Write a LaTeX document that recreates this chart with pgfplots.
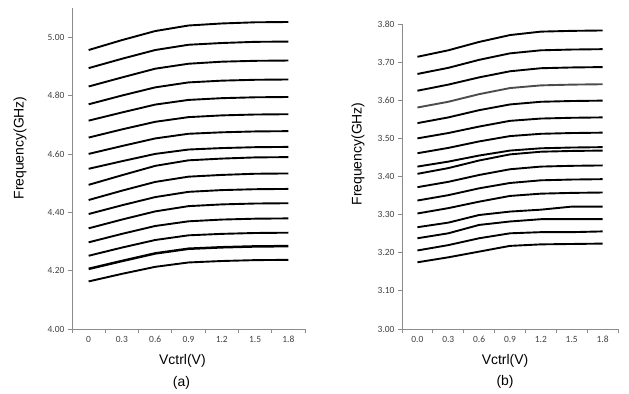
\documentclass[border=0pt]{standalone}
\usepackage{fontspec}
\setmainfont{Liberation Sans}
\newfontfamily\tickfont{Carlito}
\usepackage{pgfplots}
\pgfplotsset{compat=1.18}
\definecolor{axgray}{HTML}{8C8C8C}
\definecolor{txtgray}{HTML}{404040}
\pgfplotsset{
 panel/.style={
  scale only axis,
  anchor=south west,
  axis lines*=left,
  axis line style={axgray, line width=0.8bp},
  xmin=-0.5, xmax=6.5,
  xtick={0,...,6},
  minor xtick={-0.5,0.5,...,6.5},
  major x tick style={draw=none},
  minor x tick style={draw=axgray, line width=0.8bp},
  y tick style={draw=axgray, line width=0.8bp},
  tick align=outside,
  major tick length=4bp, minor tick length=4bp,
  tick label style={font=\tickfont\fontsize{9.5}{11}\selectfont, text=txtgray},
  /pgf/number format/assume math mode=true,
  yticklabel style={/pgf/number format/.cd, fixed, fixed zerofill, precision=2},
  cycle list={black,solid,line width=1.9bp,mark=none\\},
  clip=false,
 }
}
\begin{document}
\begin{tikzpicture}
\useasboundingbox (0,0) rectangle (629bp,394bp);
% ---------------- (a) ----------------
\begin{axis}[panel, at={(72bp,65bp)}, width=233bp, height=321bp,
  ymin=4.0, ymax=5.1, ytick={4.0,4.2,4.4,4.6,4.8,5.0},
  xticklabels={0,0.3,0.6,0.9,1.2,1.5,1.8}]
\addplot coordinates {(0,4.956) (1,4.990) (2,5.021) (3,5.040) (4,5.047) (5,5.051) (6,5.052)};
\addplot coordinates {(0,4.894) (1,4.926) (2,4.956) (3,4.974) (4,4.980) (5,4.984) (6,4.985)};
\addplot coordinates {(0,4.831) (1,4.862) (2,4.892) (3,4.909) (4,4.916) (5,4.919) (6,4.920)};
\addplot coordinates {(0,4.770) (1,4.800) (2,4.828) (3,4.845) (4,4.851) (5,4.854) (6,4.855)};
\addplot coordinates {(0,4.714) (1,4.742) (2,4.769) (3,4.785) (4,4.791) (5,4.794) (6,4.795)};
\addplot coordinates {(0,4.656) (1,4.684) (2,4.710) (3,4.726) (4,4.732) (5,4.735) (6,4.736)};
\addplot coordinates {(0,4.600) (1,4.627) (2,4.653) (3,4.669) (4,4.674) (5,4.677) (6,4.678)};
\addplot coordinates {(0,4.549) (1,4.575) (2,4.600) (3,4.615) (4,4.620) (5,4.623) (6,4.624)};
\addplot coordinates {(0,4.494) (1,4.527) (2,4.559) (3,4.578) (4,4.584) (5,4.588) (6,4.589)};
\addplot coordinates {(0,4.442) (1,4.474) (2,4.504) (3,4.522) (4,4.528) (5,4.532) (6,4.533)};
\addplot coordinates {(0,4.394) (1,4.424) (2,4.452) (3,4.470) (4,4.476) (5,4.479) (6,4.480)};
\addplot coordinates {(0,4.345) (1,4.375) (2,4.403) (3,4.421) (4,4.427) (5,4.430) (6,4.431)};
\addplot coordinates {(0,4.297) (1,4.326) (2,4.353) (3,4.369) (4,4.375) (5,4.378) (6,4.379)};
\addplot coordinates {(0,4.251) (1,4.279) (2,4.305) (3,4.321) (4,4.326) (5,4.329) (6,4.330)};
\addplot[black, line width=2.5bp] coordinates {(0,4.206) (1,4.233) (2,4.259) (3,4.275) (4,4.280) (5,4.283) (6,4.284)};
\addplot coordinates {(0,4.163) (1,4.189) (2,4.213) (3,4.228) (4,4.233) (5,4.236) (6,4.237)};
\node[rotate=90, font=\fontsize{14}{16}\selectfont] at (axis description cs:-0.223,0.564) {Frequency(GHz)};
\node[font=\fontsize{14}{16}\selectfont] at (axis description cs:0.474,-0.0997) {Vctrl(V)};
\node[font=\fontsize{14}{16}\selectfont] at (axis description cs:0.47,-0.168) {(a)};
\end{axis}
% ---------------- (b) ----------------
\begin{axis}[panel, at={(402bp,65bp)}, width=216bp, height=305bp,
  ymin=3.0, ymax=3.8, ytick={3.0,3.1,3.2,3.3,3.4,3.5,3.6,3.7,3.8},
  xticklabels={0.0,0.3,0.6,0.9,1.2,1.5,1.8}]
\addplot coordinates {(0,3.714) (1,3.731) (2,3.753) (3,3.771) (4,3.780) (5,3.782) (6,3.783)};
\addplot coordinates {(0,3.669) (1,3.685) (2,3.706) (3,3.723) (4,3.731) (5,3.733) (6,3.734)};
\addplot coordinates {(0,3.625) (1,3.641) (2,3.660) (3,3.676) (4,3.684) (5,3.686) (6,3.687)};
\addplot[color=black!70, line width=1.9bp] coordinates {(0,3.581) (1,3.596) (2,3.616) (3,3.632) (4,3.639) (5,3.641) (6,3.642)};
\addplot coordinates {(0,3.540) (1,3.555) (2,3.574) (3,3.589) (4,3.596) (5,3.598) (6,3.599)};
\addplot coordinates {(0,3.500) (1,3.514) (2,3.531) (3,3.546) (4,3.552) (5,3.554) (6,3.555)};
\addplot coordinates {(0,3.461) (1,3.475) (2,3.492) (3,3.506) (4,3.512) (5,3.514) (6,3.515)};
\addplot coordinates {(0,3.426) (1,3.439) (2,3.455) (3,3.468) (4,3.474) (5,3.476) (6,3.477)};
\addplot coordinates {(0,3.407) (1,3.422) (2,3.442) (3,3.458) (4,3.465) (5,3.467) (6,3.468)};
\addplot coordinates {(0,3.372) (1,3.386) (2,3.404) (3,3.419) (4,3.426) (5,3.428) (6,3.429)};
\addplot coordinates {(0,3.337) (1,3.351) (2,3.369) (3,3.383) (4,3.390) (5,3.392) (6,3.393)};
\addplot coordinates {(0,3.303) (1,3.317) (2,3.334) (3,3.349) (4,3.355) (5,3.357) (6,3.358)};
\addplot coordinates {(0,3.267) (1,3.279) (2,3.299) (3,3.308) (4,3.313) (5,3.321) (6,3.321)};
\addplot coordinates {(0,3.238) (1,3.251) (2,3.273) (3,3.282) (4,3.288) (5,3.288) (6,3.288)};
\addplot coordinates {(0,3.206) (1,3.220) (2,3.238) (3,3.251) (4,3.254) (5,3.254) (6,3.256)};
\addplot coordinates {(0,3.175) (1,3.188) (2,3.203) (3,3.218) (4,3.222) (5,3.223) (6,3.224)};
\node[rotate=90, font=\fontsize{14}{16}\selectfont] at (axis description cs:-0.204,0.574) {Frequency(GHz)};
\node[font=\fontsize{14}{16}\selectfont] at (axis description cs:0.477,-0.105) {Vctrl(V)};
\node[font=\fontsize{14}{16}\selectfont] at (axis description cs:0.477,-0.174) {(b)};
\end{axis}
\end{tikzpicture}
\end{document}
